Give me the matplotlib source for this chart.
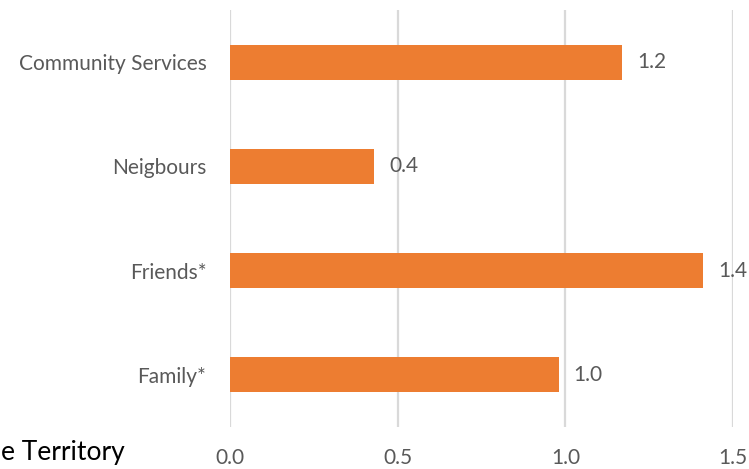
import matplotlib
matplotlib.use("Agg")
import matplotlib.pyplot as plt

plt.rcParams['font.family'] = ['Lato', 'DejaVu Sans']

categories = ["Family*", "Friends*", "Neigbours", "Community Services"]
values = [0.98, 1.41, 0.43, 1.17]
xticks = [0.0, 0.5, 1.0, 1.5]

W, H = 749, 469
fig = plt.figure(figsize=(W / 100, H / 100), dpi=100)
ax = fig.add_axes([230 / W, 1 - 427 / H, (733 - 230) / W, (427 - 10) / H])

bar_color = "#ED7D31"
text_color = "#595959"
grid_color = "#D9D9D9"
fs = 15

ypos = list(range(len(categories)))
ax.barh(ypos, values, height=0.335, color=bar_color, zorder=3)

for y, v in zip(ypos, values):
    ax.text(v + 0.045, y, f"{v:.1f}", va="center", ha="left",
            fontsize=fs, color=text_color, zorder=4)

ax.set_xlim(0, 1.5)
ax.set_ylim(-0.5, len(categories) - 0.5)
ax.set_xticks(xticks)
ax.set_xticklabels([f"{t:.1f}" for t in xticks])
ax.set_yticks(ypos)
ax.set_yticklabels(categories)
ax.tick_params(axis="both", length=0, labelsize=fs, labelcolor=text_color)
ax.tick_params(axis="x", pad=15)
ax.tick_params(axis="y", pad=17)

ax.xaxis.grid(True, color=grid_color, linewidth=1.6, zorder=0)
ax.yaxis.grid(False)
for s in ax.spines.values():
    s.set_visible(False)

fig.text(125 / W, 1 - 452 / H, "e Territory", ha="right", va="center",
         fontsize=19, color="black")

fig.savefig("out.png", dpi=100)
